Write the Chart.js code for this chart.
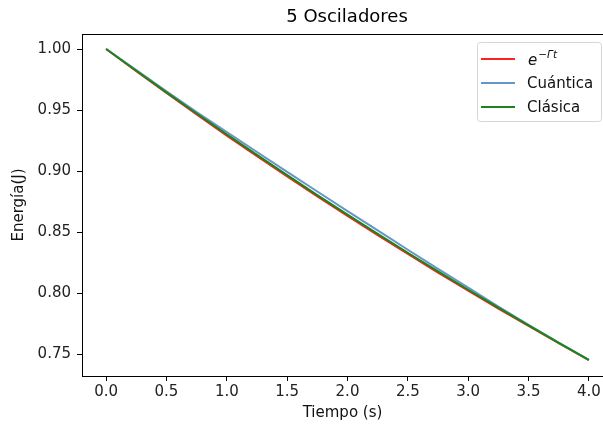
<!DOCTYPE html>
<html>
<head>
<meta charset="utf-8">
<script src="https://cdn.jsdelivr.net/npm/chart.js@4/dist/chart.umd.min.js"></script>
<style>
html,body{margin:0;padding:0;background:#fff;overflow:hidden;}
canvas{display:block;}
</style>
</head>
<body>
<canvas id="c" width="603" height="430"></canvas>
<script>
const chartTitle = "5 Osciladores";
const xLabel = "Tiempo (s)";
const yLabel = "Energía(J)";
const tValues = [0, 0.25, 0.5, 0.75, 1.0, 1.25, 1.5, 1.75, 2.0, 2.25, 2.5, 2.75, 3.0, 3.25, 3.5, 3.75, 4.0];
const expDecay = [1.000, 0.9818, 0.9639, 0.9463, 0.9290, 0.9121, 0.8955, 0.8792, 0.8632, 0.8474, 0.8320, 0.8168, 0.8019, 0.7873, 0.7730, 0.7589, 0.7450];
const cuantica = [1.000, 0.9828, 0.9654, 0.9483, 0.9320, 0.9156, 0.8993, 0.8832, 0.8672, 0.8514, 0.8355, 0.8198, 0.8044, 0.7888, 0.7740, 0.7594, 0.7450];
const clasica  = [1.000, 0.9822, 0.9645, 0.9471, 0.9300, 0.9132, 0.8966, 0.8803, 0.8643, 0.8485, 0.8330, 0.8177, 0.8027, 0.7880, 0.7735, 0.7592, 0.7452];
const seriesLabels = ["e^{−Γt}", "Cuántica", "Clásica"];
const xTicks = [0.0, 0.5, 1.0, 1.5, 2.0, 2.5, 3.0, 3.5, 4.0];
const yTicks = [0.75, 0.80, 0.85, 0.90, 0.95, 1.00];

const FONT = "'DejaVu Sans', sans-serif";
const toPts = (ys) => tValues.map((t, i) => ({x: t, y: ys[i]}));

const legendPlugin = {
  id: 'mplLegend',
  afterDraw(chart) {
    const ctx = chart.ctx;
    const a = chart.chartArea;
    ctx.save();
    // the axes continue past the right edge of the picture: keep that edge open
    ctx.fillStyle = '#fff';
    ctx.fillRect(595, a.top + 1, 10, a.bottom - a.top - 2);
    // top spine
    ctx.strokeStyle = '#000';
    ctx.lineWidth = 1;
    ctx.beginPath();
    ctx.moveTo(a.left, a.top + 0.5);
    ctx.lineTo(a.right + 10, a.top + 0.5);
    ctx.stroke();
    // title (centred over the full axes, which extend past the picture)
    ctx.fillStyle = '#000';
    ctx.font = "18px " + FONT;
    ctx.textAlign = 'center';
    ctx.textBaseline = 'middle';
    ctx.fillText(chartTitle, 347, 17);
    // legend box
    const bx = 477.5, by = 42.5, bw = 124, bh = 79, r = 3;
    ctx.beginPath();
    ctx.moveTo(bx + r, by);
    ctx.lineTo(bx + bw - r, by);
    ctx.arcTo(bx + bw, by, bx + bw, by + r, r);
    ctx.lineTo(bx + bw, by + bh - r);
    ctx.arcTo(bx + bw, by + bh, bx + bw - r, by + bh, r);
    ctx.lineTo(bx + r, by + bh);
    ctx.arcTo(bx, by + bh, bx, by + bh - r, r);
    ctx.lineTo(bx, by + r);
    ctx.arcTo(bx, by, bx + r, by, r);
    ctx.closePath();
    ctx.fillStyle = 'rgba(255,255,255,0.8)';
    ctx.fill();
    ctx.strokeStyle = '#d6d6d6';
    ctx.lineWidth = 1;
    ctx.stroke();
    const rows = [59, 83, 107];
    chart.data.datasets.forEach((ds, i) => {
      const y = rows[i];
      ctx.strokeStyle = ds.borderColor;
      ctx.lineWidth = 2;
      ctx.beginPath();
      ctx.moveTo(481, y);
      ctx.lineTo(515, y);
      ctx.stroke();
      ctx.fillStyle = '#111';
      ctx.textAlign = 'left';
      ctx.textBaseline = 'middle';
      const lab = ds.label;
      const m = lab.match(/^(.*)\^\{(.*)\}$/);
      if (m) {
        ctx.font = "italic 15px " + FONT;
        ctx.fillText(m[1], 528, y + 2);
        const w = ctx.measureText(m[1]).width;
        ctx.font = "italic 10.5px " + FONT;
        ctx.fillText(m[2], 528 + w + 1, y - 4);
      } else {
        ctx.font = "15px " + FONT;
        ctx.fillText(lab, 527, y + 1);
      }
    });
    ctx.restore();
  }
};

new Chart(document.getElementById('c'), {
  type: 'line',
  data: {
    datasets: [
      {label: seriesLabels[0], data: toPts(expDecay), borderColor: '#ff2020', borderWidth: 2, pointRadius: 0, fill: false, tension: 0, order: 2},
      {label: seriesLabels[1], data: toPts(cuantica), borderColor: '#6596c8', borderWidth: 2, pointRadius: 0, fill: false, tension: 0, order: 1},
      {label: seriesLabels[2], data: toPts(clasica), borderColor: '#1a861a', borderWidth: 2, pointRadius: 0, fill: false, tension: 0, order: 0}
    ]
  },
  options: {
    responsive: false,
    animation: false,
    events: [],
    layout: {padding: {left: 0, right: 0, top: 34, bottom: 0}},
    plugins: {legend: {display: false}, title: {display: false}, tooltip: {enabled: false}},
    scales: {
      x: {
        type: 'linear',
        min: -0.2, max: 4.117,
        afterFit(s) { s.height = 54; },
        afterBuildTicks(s) { s.ticks = xTicks.map(v => ({value: v})); },
        border: {color: '#000', width: 1},
        grid: {drawOnChartArea: false, drawTicks: true, tickLength: 5, color: '#000'},
        ticks: {color: '#222', font: {family: FONT, size: 15}, padding: 2, maxRotation: 0, autoSkip: false,
                callback: (v) => Number(v).toFixed(1)},
        title: {display: true, text: xLabel, color: '#111', font: {family: FONT, size: 15}, padding: {top: 0, bottom: 8}}
      },
      y: {
        type: 'linear',
        min: 0.732, max: 1.0123,
        afterFit(s) { s.width = 82; },
        afterBuildTicks(s) { s.ticks = yTicks.map(v => ({value: v})); },
        border: {color: '#000', width: 1},
        grid: {drawOnChartArea: false, drawTicks: true, tickLength: 5, color: '#000'},
        ticks: {color: '#222', font: {family: FONT, size: 15}, padding: 6, autoSkip: false,
                callback: (v) => Number(v).toFixed(2)},
        title: {display: true, text: yLabel, color: '#111', font: {family: FONT, size: 15}, padding: {top: 10, bottom: 4}}
      }
    }
  },
  plugins: [legendPlugin]
});
</script>
</body>
</html>
